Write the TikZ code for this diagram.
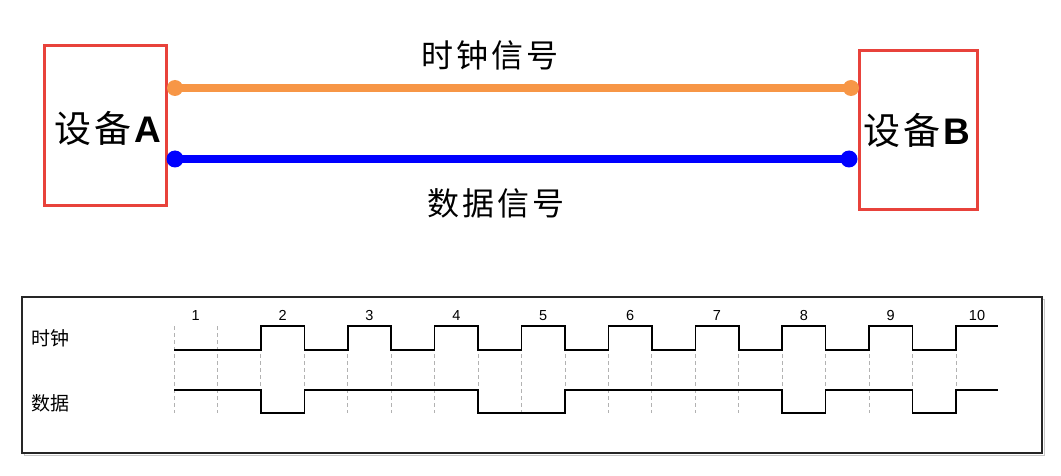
\documentclass[tikz,border=0pt]{standalone}
\usepackage{fontspec}
\setmainfont{Liberation Sans}
\newfontfamily\cjk{Noto Sans CJK SC}
\definecolor{boxred}{HTML}{E8423B}
\definecolor{clkorange}{HTML}{F79646}
\definecolor{datablue}{HTML}{0000FF}
\newcommand{\gs}{\hspace{3pt}}
\tikzset{
  devbox/.style={draw=boxred, line width=3pt, fill=white, inner sep=0pt},
  clkline/.style={clkorange, line width=7.5pt},
  datline/.style={datablue, line width=7.5pt},
  sigline/.style={black, line width=1.6pt},
  gridline/.style={gray!60, line width=0.9pt, dash pattern=on 4pt off 3pt},
  numlabel/.style={font=\fontsize{14.5}{16}\selectfont, inner sep=0pt, anchor=base},
  siglabel/.style={font=\cjk\fontsize{19}{21}\selectfont, inner sep=0pt},
  title/.style={font=\cjk\fontsize{32}{36}\selectfont, inner sep=0pt},
}
\begin{document}
\begin{tikzpicture}[x=1pt,y=-1pt]
\useasboundingbox (0,0) rectangle (1061,476);
% devices
\node[devbox, minimum width=122pt, minimum height=160pt] (A) at (105,126) {};
\node[devbox, minimum width=118pt, minimum height=159pt] (B) at (918,130.5) {};
\node[inner sep=0pt] (Atext) at (108,128) {\fontsize{37}{40}\selectfont{\cjk 设\gs 备\gs}\textbf{A}};
\node[inner sep=0pt] (Btext) at (917,130) {\fontsize{37}{40}\selectfont{\cjk 设\gs 备\gs}\textbf{B}};
% link coordinates
\coordinate (ca) at (175,88);
\coordinate (cb) at (851,88);
\coordinate (da) at (175,159);
\coordinate (db) at (849,159);
\draw[clkline] (ca) -- (cb);
\draw[datline] (da) -- (db);
\fill[clkorange] (ca) circle (8pt) (cb) circle (8pt);
\fill[datablue] (da) circle (8.5pt) (db) circle (8.5pt);
\node[title] (clktitle) at (490,55) {时\gs 钟\gs 信\gs 号};
\node[title] (dattitle) at (496,203) {数\gs 据\gs 信\gs 号};
% timing frame
\draw[gray!45, line width=1.6pt] (24.5,299.5) rectangle (1044.5,455.5);
\draw[black!85, line width=1.6pt, fill=white] (22,297) rectangle (1042,453);
\node[siglabel] (lclk) at (50,338) {时钟};
\node[siglabel] (ldat) at (50,403) {数据};
% grid
\foreach \i in {0,...,18} {
  \draw[gridline] (174+43.444*\i,326) -- (174+43.444*\i,413);
}
% clock
\draw[sigline] (174,350) -| (260.9,326) -| (304.3,350) -| (347.8,326) -| (391.2,350)
  -| (434.6,326) -| (478.1,350) -| (521.5,326) -| (565.0,350) -| (608.4,326)
  -| (651.8,350) -| (695.3,326) -| (738.7,350) -| (782.2,326) -| (825.6,350)
  -| (869.0,326) -| (912.5,350) -| (955.9,326) -- (998,326);
% data
\draw[sigline] (174,390) -| (260.9,413) -| (304.3,390) -| (478.1,413) -| (565.0,390)
  -| (782.2,413) -| (825.6,390) -| (912.5,413) -| (955.9,390) -- (998,390);
% numbers
\node[numlabel] (n1) at (195.7,320) {1};
\node[numlabel] (n2) at (282.6,320) {2};
\node[numlabel] (n3) at (369.5,320) {3};
\node[numlabel] (n4) at (456.4,320) {4};
\node[numlabel] (n5) at (543.2,320) {5};
\node[numlabel] (n6) at (630.1,320) {6};
\node[numlabel] (n7) at (717.0,320) {7};
\node[numlabel] (n8) at (803.9,320) {8};
\node[numlabel] (n9) at (890.7,320) {9};
\node[numlabel] (n10) at (977,320) {10};
\end{tikzpicture}
\end{document}
